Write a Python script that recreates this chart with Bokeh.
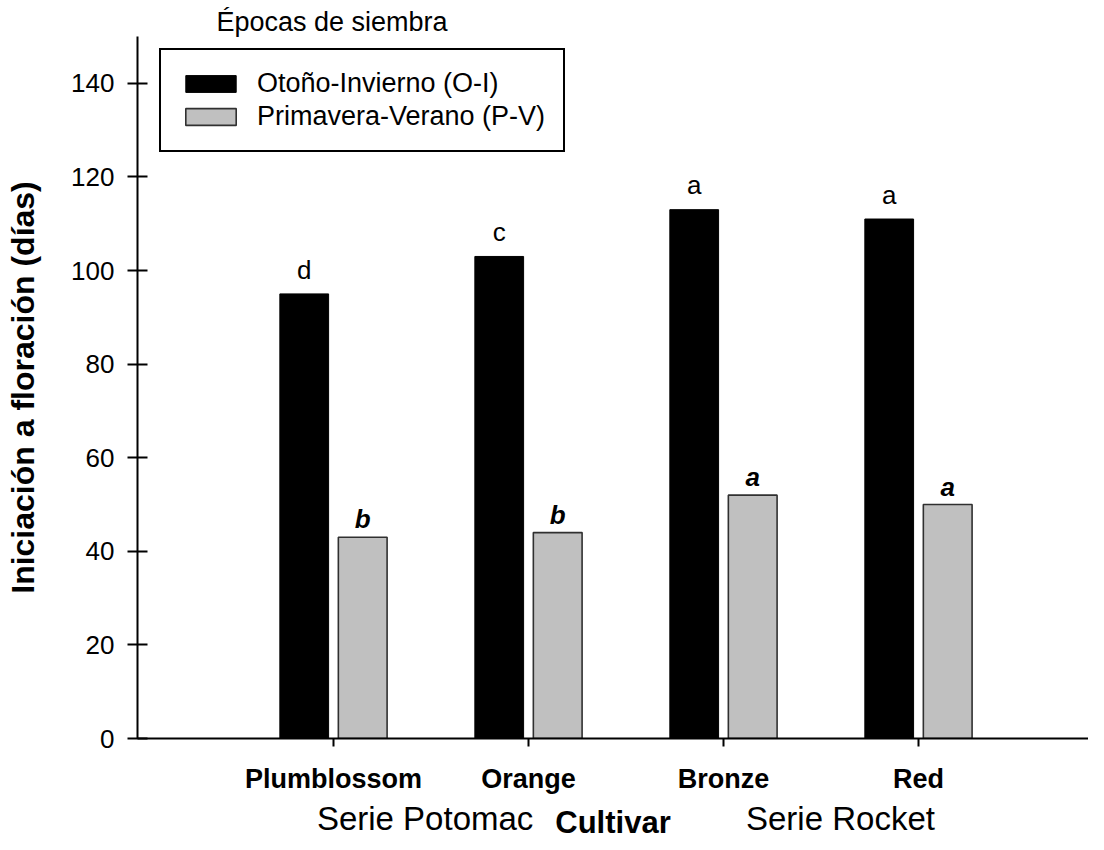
import numpy as np
from bokeh.plotting import figure
from bokeh.models import FixedTicker, Legend, LegendItem, Range1d, LinearAxis
from bokeh.core.properties import value
from bokeh.embed import file_html
from bokeh.resources import INLINE

# ---- data ----
cultivars = ["Plumblossom", "Orange", "Bronze", "Red"]
oi_days = [95, 103, 113, 111]          # Otoño-Invierno
pv_days = [43, 44, 52, 50]             # Primavera-Verano
oi_letters = ["d", "c", "a", "a"]
pv_letters = ["b", "b", "a", "a"]
y_ticks = [0, 20, 40, 60, 80, 100, 120, 140]
series_names = ["Serie Potomac", "Serie Rocket"]
legend_labels = ["Otoño-Invierno (O-I)", "Primavera-Verano (P-V)"]
legend_title = "Épocas de siembra"

FONT = "Liberation Sans"
pos = np.arange(1, len(cultivars) + 1)
off = 0.15
bw = 0.25
series_x = [1.47, 3.6]

p = figure(width=1088, height=842, x_range=Range1d(-0.005, 4.872), y_range=Range1d(0, 150),
           output_backend="svg", toolbar_location=None,
           min_border_left=137, min_border_right=0, min_border_top=36, min_border_bottom=104)

# title used as the legend heading (sits above the legend box)
p.title.text = legend_title
p.title.align = "left"
p.title.offset = 79
p.title.standoff = 0
p.title.text_font = FONT
p.title.text_font_size = "27px"
p.title.text_font_style = "normal"
p.title.text_color = "black"

r_oi = p.vbar(x=pos - off, top=oi_days, width=bw, fill_color="black", line_color="black", line_width=1)
r_pv = p.vbar(x=pos + off, top=pv_days, width=bw, fill_color="#c0c0c0", line_color="#303030", line_width=1.6)

p.text(x=pos - off, y=np.array(oi_days) + 5.2, text=oi_letters, text_align="center",
       text_baseline="alphabetic", text_font=value(FONT), text_font_size="26px", text_color="black")
p.text(x=pos + off, y=np.array(pv_days) + 3.8, text=pv_letters, text_align="center",
       text_baseline="alphabetic", text_font=value(FONT), text_font_size="26px",
       text_font_style="bold italic", text_color="black")

legend = Legend(items=[LegendItem(label=legend_labels[0], renderers=[r_oi]),
                       LegendItem(label=legend_labels[1], renderers=[r_pv])],
                location=(22, 586))
legend.border_line_color = "black"
legend.border_line_alpha = 1
legend.border_line_width = 2
legend.padding = 18
legend.spacing = 2
legend.margin = 0
legend.glyph_width = 63
legend.glyph_height = 21
legend.label_standoff = 15
legend.label_text_font = FONT
legend.label_text_font_size = "27px"
legend.label_text_color = "black"
legend.background_fill_alpha = 1
p.add_layout(legend)

# axes
xa = p.xaxis[0]
xa.ticker = FixedTicker(ticks=[int(v) for v in pos])
xa.major_label_overrides = {int(v): c for v, c in zip(pos, cultivars)}
xa.minor_tick_line_color = None
xa.major_tick_in = 0
xa.major_tick_out = 8
xa.axis_line_width = 2
xa.major_tick_line_width = 2
xa.axis_line_color = "black"
xa.major_tick_line_color = "black"
xa.major_label_standoff = 17
xa.major_label_text_font = FONT
xa.major_label_text_font_size = "27px"
xa.major_label_text_font_style = "bold"
xa.major_label_text_color = "black"

# second (lower) axis carrying the series names and the axis title
ax2 = LinearAxis(ticker=FixedTicker(ticks=series_x),
                 major_label_overrides={float(v): n for v, n in zip(series_x, series_names)})
ax2.axis_line_color = None
ax2.major_tick_line_color = None
ax2.minor_tick_line_color = None
ax2.major_tick_in = 0
ax2.major_tick_out = 0
ax2.major_label_standoff = 3
ax2.major_label_text_font = FONT
ax2.major_label_text_font_size = "33px"
ax2.major_label_text_color = "black"
ax2.axis_label = "Cultivar"
ax2.axis_label_text_font = FONT
ax2.axis_label_text_font_size = "31px"
ax2.axis_label_text_font_style = "bold"
ax2.axis_label_text_color = "black"
ax2.axis_label_standoff = -35
p.add_layout(ax2, "below")

ya = p.yaxis[0]
ya.ticker = FixedTicker(ticks=y_ticks)
ya.minor_tick_line_color = None
ya.major_tick_in = 10
ya.major_tick_out = 10
ya.axis_line_width = 2
ya.major_tick_line_width = 2
ya.axis_line_color = "black"
ya.major_tick_line_color = "black"
ya.major_label_standoff = 13
ya.major_label_text_font = FONT
ya.major_label_text_font_size = "26px"
ya.major_label_text_color = "black"
ya.axis_label = "Iniciación a floración (días)"
ya.axis_label_text_font = FONT
ya.axis_label_text_font_size = "32px"
ya.axis_label_text_font_style = "bold"
ya.axis_label_text_color = "black"
ya.axis_label_standoff = 27

p.xgrid.visible = False
p.ygrid.visible = False
p.outline_line_color = None
p.background_fill_color = "white"
p.border_fill_color = "white"

open("out.html", "w").write(file_html(p, INLINE))
